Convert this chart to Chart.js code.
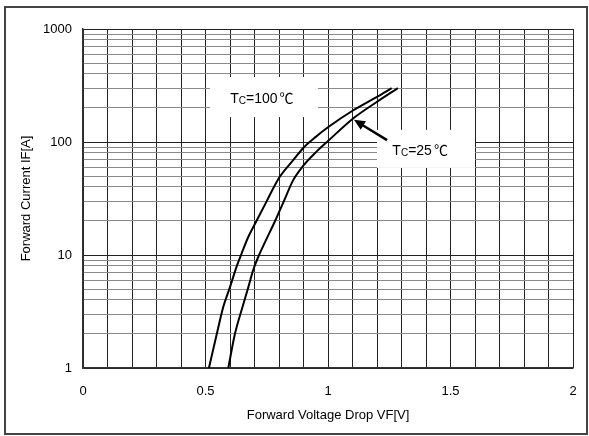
<!DOCTYPE html>
<html>
<head>
<meta charset="utf-8">
<script src="https://cdn.jsdelivr.net/npm/chart.js@4/dist/chart.umd.min.js"></script>
<style>
  html, body { margin: 0; padding: 0; background: #fff; }
  #wrap { width: 589px; height: 436px; }
</style>
</head>
<body>
<div id="wrap"><canvas id="ivChart"></canvas></div>
<script>
// forward characteristic
const vf100 = [0.514, 0.546, 0.573, 0.60, 0.627, 0.648, 0.675, 0.70, 0.75, 0.80, 0.858, 0.90, 0.95, 1.0, 1.1, 1.2, 1.26];
const if100 = [1, 2.0, 3.5, 5.2, 7.9, 10.4, 14.5, 18.5, 30, 48, 69, 89, 111, 135, 189, 251, 300];

const vf25 = [0.593, 0.62, 0.648, 0.675, 0.695, 0.716, 0.743, 0.784, 0.82, 0.858, 0.90, 0.95, 1.0, 1.1, 1.2, 1.285];
const if25 = [1, 2.0, 3.3, 5.2, 7.4, 9.7, 13, 20, 30, 46, 62, 81, 102, 160, 227, 300];

const xTickLabels = ['0', '0.5', '1', '1.5', '2'];
const yTickLabels = ['1', '10', '100', '1000'];
const yDecades = [1, 10, 100];
const ySteps = [1, 2, 3, 4, 5, 6, 7, 8, 9];

const FONT = "'Liberation Sans', Arial, sans-serif";

function toPoints(xs, ys) {
  return xs.map((x, i) => ({ x: x, y: ys[i] }));
}

// frame, label boxes, labels and arrow
const decorPlugin = {
  id: 'decor',
  beforeDraw(chart) {
    const c = chart.ctx;
    c.save();
    c.fillStyle = '#fff';
    c.fillRect(0, 0, chart.width, chart.height);
    c.strokeStyle = '#444';
    c.lineWidth = 2;
    c.strokeRect(5, 7, 582, 427);
    c.restore();
  },
  beforeDatasetsDraw(chart) {
    const c = chart.ctx;
    const xs = chart.scales.x, ys = chart.scales.y;
    c.save();
    c.fillStyle = '#fff';
    // Tc=100 box and Tc=25 box (data units)
    [[0.518, 0.959, 376, 166], [1.20, 1.60, 128, 59]].forEach(b => {
      const x0 = xs.getPixelForValue(b[0]), x1 = xs.getPixelForValue(b[1]);
      const y0 = ys.getPixelForValue(b[2]), y1 = ys.getPixelForValue(b[3]);
      c.fillRect(x0, y0, x1 - x0, y1 - y0);
    });
    c.restore();
  },
  afterDraw(chart) {
    const c = chart.ctx;
    const xs = chart.scales.x, ys = chart.scales.y;
    c.save();
    c.fillStyle = '#000';
    c.textBaseline = 'alphabetic';

    function tcLabel(cx, cy, temp) {
      const main = '14px ' + FONT, sub = '10px ' + FONT, deg = "14px 'Noto Sans CJK JP', 'DejaVu Sans'";
      c.font = main; const wT = c.measureText('T').width;
      c.font = sub; const wC = c.measureText('C').width;
      c.font = main; const wN = c.measureText('=' + temp).width;
      c.font = deg; const wD = c.measureText('℃').width;
      let x = cx - (wT + wC + wN + 2 + wD) / 2;
      const y = cy + 5;
      c.font = main; c.fillText('T', x, y); x += wT;
      c.font = sub; c.fillText('C', x, y + 1); x += wC;
      c.font = main; c.fillText('=' + temp, x, y); x += wN + 2;
      c.font = deg; c.fillText('℃', x, y);
    }
    tcLabel(xs.getPixelForValue(0.73), ys.getPixelForValue(245), '100');
    tcLabel(xs.getPixelForValue(1.376), ys.getPixelForValue(85), '25');

    // arrow pointing to the 25 degC curve
    const tx = xs.getPixelForValue(1.241), ty = ys.getPixelForValue(104);
    const hx = xs.getPixelForValue(1.106), hy = ys.getPixelForValue(157);
    const ang = Math.atan2(hy - ty, hx - tx);
    const headLen = 11, headW = 5;
    c.strokeStyle = '#000';
    c.lineWidth = 2.5;
    c.beginPath();
    c.moveTo(tx, ty);
    c.lineTo(hx - Math.cos(ang) * headLen * 0.8, hy - Math.sin(ang) * headLen * 0.8);
    c.stroke();
    c.beginPath();
    c.moveTo(hx, hy);
    c.lineTo(hx - Math.cos(ang) * headLen + Math.sin(ang) * headW, hy - Math.sin(ang) * headLen - Math.cos(ang) * headW);
    c.lineTo(hx - Math.cos(ang) * headLen - Math.sin(ang) * headW, hy - Math.sin(ang) * headLen + Math.cos(ang) * headW);
    c.closePath();
    c.fill();
    c.restore();
  }
};

const ctx = document.getElementById('ivChart').getContext('2d');

new Chart(ctx, {
  type: 'scatter',
  data: {
    datasets: [{
      label: 'Tc=100℃',
      data: toPoints(vf100, if100),
      showLine: true,
      borderColor: '#000',
      borderWidth: 2,
      pointRadius: 0,
      cubicInterpolationMode: 'monotone'
    }, {
      label: 'Tc=25℃',
      data: toPoints(vf25, if25),
      showLine: true,
      borderColor: '#000',
      borderWidth: 2,
      pointRadius: 0,
      cubicInterpolationMode: 'monotone'
    }]
  },
  options: {
    responsive: true,
    maintainAspectRatio: false,
    animation: false,
    layout: {
      padding: { left: 19, top: 29, right: 16, bottom: 13 }
    },
    plugins: {
      legend: { display: false },
      tooltip: { enabled: false }
    },
    scales: {
      x: {
        type: 'linear',
        min: 0,
        max: 2,
        afterFit: function(scale) {
          scale.height = 55;
          scale.paddingLeft = 0;
          scale.paddingRight = 0;
        },
        grid: {
          color: '#222',
          lineWidth: 1,
          drawTicks: false
        },
        border: { color: '#333', width: 1.5 },
        ticks: {
          stepSize: 0.1,
          autoSkip: false,
          maxRotation: 0,
          padding: 16,
          color: '#000',
          font: { family: FONT, size: 13 },
          callback: function(value) {
            const s = String(Math.round(value * 10) / 10);
            return xTickLabels.includes(s) ? s : '';
          }
        },
        title: {
          display: true,
          text: 'Forward Voltage Drop VF[V]',
          color: '#000',
          font: { family: FONT, size: 13 },
          padding: 0
        }
      },
      y: {
        type: 'logarithmic',
        min: 1,
        max: 1000,
        afterFit: function(scale) { scale.width = 64; },
        afterBuildTicks: function(scale) {
          const t = [];
          yDecades.forEach(d => ySteps.forEach(s => t.push({ value: d * s })));
          t.push({ value: 1000 });
          scale.ticks = t;
        },
        grid: {
          drawTicks: false,
          lineWidth: 1,
          color: function(c) {
            return yTickLabels.includes(String(c.tick.value)) ? '#222' : '#8a8a8a';
          }
        },
        border: { color: '#333', width: 1.5 },
        ticks: {
          autoSkip: false,
          padding: 11,
          color: '#000',
          font: { family: FONT, size: 13 },
          callback: function(value) {
            const s = String(value);
            return yTickLabels.includes(s) ? s : '';
          }
        },
        title: {
          display: true,
          text: 'Forward Current IF[A]',
          color: '#000',
          font: { family: FONT, size: 13 },
          padding: 0
        }
      }
    }
  },
  plugins: [decorPlugin]
});
</script>
</body>
</html>
